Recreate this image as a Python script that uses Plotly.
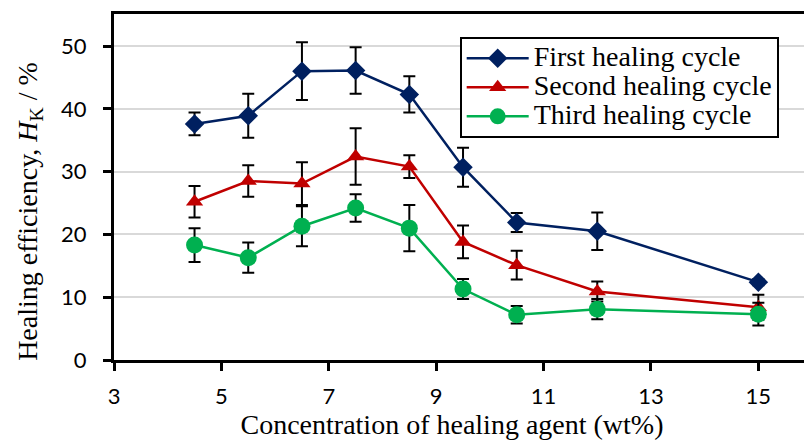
import plotly.graph_objects as go

conc = [4.5, 5.5, 6.5, 7.5, 8.5, 9.5, 10.5, 12, 15]

first = [37.6, 38.9, 46.0, 46.1, 42.3, 30.7, 21.9, 20.5, 12.4]
first_err = [1.8, 3.5, 4.6, 3.7, 2.9, 3.1, 1.5, 3.0, 0.5]

second = [25.2, 28.5, 28.1, 32.4, 30.8, 18.8, 15.1, 10.9, 8.4]
second_err = [2.5, 2.5, 3.4, 4.5, 1.8, 2.6, 2.3, 1.6, 2.0]

third = [18.3, 16.3, 21.3, 24.2, 21.0, 11.3, 7.2, 8.1, 7.3]
third_err = [2.7, 2.4, 3.2, 2.2, 3.7, 1.6, 1.4, 1.6, 1.8]

names = ["First healing cycle", "Second healing cycle", "Third healing cycle"]
colors = ["#002060", "#C00000", "#00B050"]
symbols = ["diamond", "triangle-up", "circle"]
sizes = [15, 15, 17]

fig = go.Figure()
for name, ys, errs, c, s, sz in zip(names, [first, second, third],
                                    [first_err, second_err, third_err],
                                    colors, symbols, sizes):
    fig.add_trace(go.Scatter(
        x=conc, y=ys, name="<span style='font-size:28px'>" + name + "</span>",
        mode="lines+markers",
        line=dict(color=c, width=2.5),
        marker=dict(symbol=s, size=sz, color=c),
        error_y=dict(type="data", array=errs, visible=True,
                     color="black", thickness=2, width=6),
    ))

tick_font = dict(family="Lato, Open Sans, sans-serif", size=22, color="black")
title_font = dict(family="Liberation Serif, Times New Roman, serif", size=28, color="black")

fig.update_layout(
    width=804, height=442,
    margin=dict(l=114, r=0, t=14, b=82, autoexpand=False),
    paper_bgcolor="white", plot_bgcolor="white",
    showlegend=True,
    legend=dict(
        x=0.501, y=0.934, xanchor="left", yanchor="top",
        bgcolor="white", bordercolor="black", borderwidth=2,
        font=dict(family="Liberation Serif, Times New Roman, serif", size=20, color="black"),
        tracegroupgap=0, itemwidth=62,
    ),
    xaxis=dict(
        range=[3, 15.85], tick0=3, dtick=2,
        showgrid=False, zeroline=False, automargin=False,
        showline=True, linecolor="black", linewidth=3, mirror=True,
        ticks="outside", ticklen=8, tickwidth=3, tickcolor="black",
        tickfont=tick_font, ticklabelstandoff=7,
        title=dict(text="Concentration of healing agent (wt%)&nbsp;&nbsp;", font=title_font, standoff=4),
    ),
    yaxis=dict(
        range=[0, 55.1], tick0=0, dtick=10,
        showgrid=True, gridcolor="#D9D9D9", gridwidth=1.5, zeroline=False, automargin=False,
        showline=True, linecolor="black", linewidth=3,
        ticks="outside", ticklen=8, tickwidth=3, tickcolor="black",
        tickfont=tick_font, ticklabelstandoff=12,
        title=dict(text="Healing efficiency, <i>H</i><sub>K</sub> / %&nbsp;&nbsp;&nbsp;&nbsp;&nbsp;&nbsp;&nbsp;",
                   font=title_font, standoff=16),
    ),
)

fig.write_html("out.html",
               config={"displayModeBar": False},
               post_script="document.body.style.margin='0';document.body.style.overflow='hidden';")
